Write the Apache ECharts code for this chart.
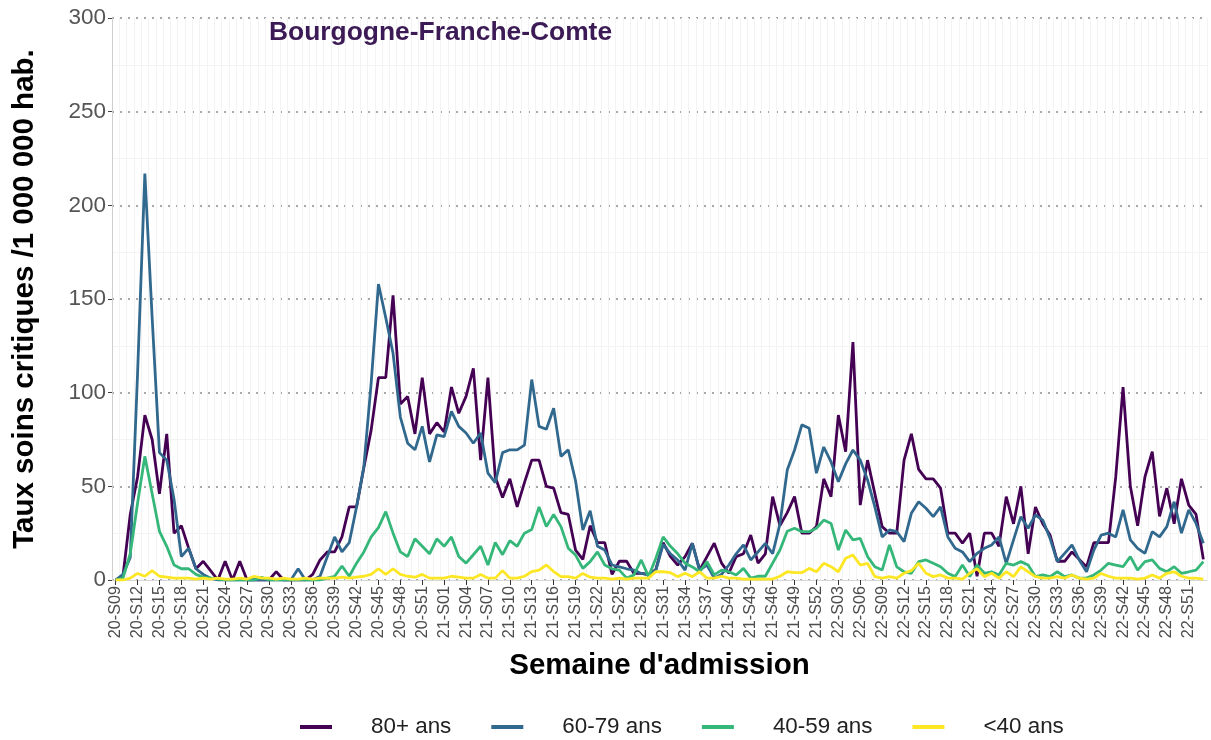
<!DOCTYPE html>
<html>
<head>
<meta charset="utf-8">
<script src="https://cdn.jsdelivr.net/npm/echarts@6/dist/echarts.min.js"></script>
<style>
html,body{margin:0;padding:0;background:#fff;}
#chart{width:1211px;height:740px;}
</style>
</head>
<body>
<div id="chart"></div>
<script>
const weeks = [
"20-S09","20-S10","20-S11","20-S12","20-S13","20-S14","20-S15","20-S16","20-S17","20-S18","20-S19","20-S20","20-S21","20-S22","20-S23","20-S24","20-S25","20-S26","20-S27","20-S28","20-S29","20-S30","20-S31","20-S32","20-S33","20-S34","20-S35","20-S36","20-S37","20-S38","20-S39","20-S40","20-S41","20-S42","20-S43","20-S44","20-S45","20-S46","20-S47","20-S48","20-S49","20-S50","20-S51","20-S52","20-S53",
"21-S01","21-S02","21-S03","21-S04","21-S05","21-S06","21-S07","21-S08","21-S09","21-S10","21-S11","21-S12","21-S13","21-S14","21-S15","21-S16","21-S17","21-S18","21-S19","21-S20","21-S21","21-S22","21-S23","21-S24","21-S25","21-S26","21-S27","21-S28","21-S29","21-S30","21-S31","21-S32","21-S33","21-S34","21-S35","21-S36","21-S37","21-S38","21-S39","21-S40","21-S41","21-S42","21-S43","21-S44","21-S45","21-S46","21-S47","21-S48","21-S49","21-S50","21-S51","21-S52",
"22-S01","22-S02","22-S03","22-S04","22-S05","22-S06","22-S07","22-S08","22-S09","22-S10","22-S11","22-S12","22-S13","22-S14","22-S15","22-S16","22-S17","22-S18","22-S19","22-S20","22-S21","22-S22","22-S23","22-S24","22-S25","22-S26","22-S27","22-S28","22-S29","22-S30","22-S31","22-S32","22-S33","22-S34","22-S35","22-S36","22-S37","22-S38","22-S39","22-S40","22-S41","22-S42","22-S43","22-S44","22-S45","22-S46","22-S47","22-S48","22-S49","22-S50","22-S51","22-S52",
"23-S01"
];

const ans80plus = [
0,2,35,55,88,75,46,78,25,29,17,6,10,5,0,10,0,10,0,0,
0,0,4.5,0,0,0,0,3,10.7,15,15,23,39,39,60,80,108,108,152,94,
98,78,108,78,84,79,103,89,98,113,64,108,55,44,54,39,52,64,64,50,
49,36,35,16,11,29,20,20,3,10,10,3.5,3.5,3,5.5,20,12.5,8,12.5,19.6,
5.3,12.5,19.6,9,3.6,12.5,14,24,9,14,44.5,29,36,44.5,25,25,28.5,54,44.5,88,
68.5,127,40,64,46,28.5,25,25,64,78,59,54,54,49,25,25,19.6,25,2,25,
25,18,44.5,30,50,14,39,30,24,10,10,15,11,7,20,20,20,55,103,50,
29,55,68.5,34,49,30,54,40,35,11
];

const ans60_79 = [
0,3,12,110,217,140,68,64,43,12.5,17,6,3,1,0,0,0,0,0,0,
0,0,0,0,0,6,0,0,2,12.5,23,15,20,39,60.5,105,158,140,121,87,
73,69.5,82,63,77.5,76.5,90,82,78.5,73,78.5,57,52,68,69.5,69.5,72,107,82,80.5,
91.7,66,69.5,53,26.7,37,18,16,8,7,6,5.3,3.5,2.7,5.3,19,14,10.7,5.3,19.6,
5.3,8,1,3,8,14,18.7,10.7,15,19.6,14,30,58.7,69.4,82.8,81,57,71,63,52.5,
62,69.4,64,53.4,39,23,26.7,25.8,20.5,35.6,41.8,38.3,33.8,39,23,16.9,15,9.8,14.2,16.9,
18.7,23,8.9,21.4,33.8,27.6,34.7,32,22.2,9.8,14.2,18.7,10.7,4.4,16,24,25,23,37.4,21.4,
16.9,14.2,25.8,23,28.5,41.8,25,37.4,30.2,19.6
];

const ans40_59 = [
0,1,14,41,66,46,26,18,8,6,6,3,1.5,1,0.5,0,0,0,0,0,
1.5,0,0,0,0,0,0,0,0,1,2,7.5,2,9,15,23,28,36.5,25,15,
12.5,22,18,14,22,18,23,12.5,9,13.5,18,8,20,13.5,21,18,25,27,39,28.5,
35,28.5,17,13.3,6.2,9.8,15,8,6,5.3,1,2.7,10.7,1.8,11.6,23,18,14,9,7,
4.4,9.8,2.7,5.3,4.4,2.7,6.2,1,2,2,9,16,26,27.6,25.8,25.8,27.6,32,30.2,16,
26.7,21.4,22.2,12.5,7.1,5.3,18.7,7,4.4,3.6,9.8,10.7,8.9,7.1,3.6,1.8,8,1.8,8,3.6,
4.4,2.7,8.9,8,9.8,8,1.8,2.7,1.8,4.4,1.8,2.7,1,1,2.7,5.3,8.9,8,7.1,12.5,
5.3,9.8,10.7,6.2,4.4,7.1,3.6,4.4,5.3,9.8
];

const ansMoins40 = [
0,0,1,3.5,2,5,2,1.5,1,1,1,0.5,1,0.5,1,0.5,0.5,1,0.5,2,
1,1,0.5,1,0.5,0.5,1,0.5,1,1,1,1.5,1,1.5,2,3,6,3,6,3,
2,1.5,3,1,1,1,2,1.5,1,1,3,1,1,5,1,1,2,4.5,5.3,8,
4.5,1.8,1.8,1,3.5,1.5,1,1,0.5,1,0.5,1,1,1,4.5,4.4,3.9,1.8,3.6,1.8,
4.4,1,1,2,1,1,0.5,0.5,0.5,0.5,0.5,2,4.4,3.9,3.9,6.2,4.4,8.9,7.1,4.4,
11.6,13.3,8,8.9,1.8,1,1.8,1,3.6,5,8.9,3.6,1.8,2.7,1,1,0.5,3.6,6,1.8,
3.6,1,4.4,1.8,7,4.4,1.8,1,1,1.8,1,2.7,1,0.5,1,3.5,2,1,1,1,
0.5,1,2.7,1,3.6,4.4,2,1,1,0.5
];

const seriesNames = ["80+ ans","60-79 ans","40-59 ans","<40 ans"];
const seriesColors = ["#440154","#31688E","#35B779","#FDE725"];
const seriesData = [ans80plus, ans60_79, ans40_59, ansMoins40];

const chart = echarts.init(document.getElementById('chart'), null, {renderer:'canvas'});
const FONT = 'Liberation Sans, Arial, sans-serif';

chart.setOption({
  animation: false,
  backgroundColor: '#ffffff',
  title: {
    text: 'Bourgogne-Franche-Comte',
    left: 264, top: 15,
    textStyle: {fontFamily: FONT, fontSize: 26.4, fontWeight: 'bold', color: '#3b1a55'}
  },
  legend: {
    left: 295, top: 711,
    icon: 'rect',
    itemWidth: 32, itemHeight: 4,
    itemGap: 40,
    data: seriesNames,
    textStyle: {fontFamily: FONT, fontSize: 22.4, color: '#222', padding: [0,0,0,34]}
  },
  grid: {left: 112, right: 4, top: 18, bottom: 160, containLabel: false},
  xAxis: {
    type: 'category',
    data: weeks,
    boundaryGap: true,
    name: "Semaine d'admission",
    nameLocation: 'middle',
    nameGap: 71,
    nameTextStyle: {fontFamily: FONT, fontSize: 29.5, fontWeight: 'bold', color: '#000'},
    axisLine: {show: true, lineStyle: {color: '#d6d6d6', width: 1}},
    axisTick: {show: true, interval: 2, alignWithLabel: true, length: 5, lineStyle: {color: '#333'}},
    axisLabel: {interval: 2, rotate: 90, fontFamily: FONT, fontSize: 16.2, color: '#4d4d4d', margin: 6},
    splitLine: {show: true, interval: 0, lineStyle: {color: '#f3f3f3', width: 1}}
  },
  yAxis: {
    type: 'value',
    min: 0, max: 300, interval: 50,
    name: 'Taux soins critiques /1 000 000 hab.',
    nameLocation: 'middle',
    nameRotate: 90,
    nameGap: 72,
    nameTextStyle: {fontFamily: FONT, fontSize: 29.5, fontWeight: 'bold', color: '#000'},
    axisLine: {show: true, lineStyle: {color: '#cfcfcf', width: 1}},
    axisTick: {show: true, length: 4, lineStyle: {color: '#444'}},
    axisLabel: {fontFamily: FONT, fontSize: 22.5, color: '#555', margin: 6},
    splitLine: {show: true, lineStyle: {color: '#8c8c8c', width: 1.5, type: [2, 6]}},
    minorTick: {show: false, splitNumber: 2},
    minorSplitLine: {show: true, lineStyle: {color: '#f3f3f3', width: 1}}
  },
  series: seriesNames.map((n, k) => ({
    name: n,
    type: 'line',
    data: seriesData[k],
    symbol: 'none',
    showSymbol: false,
    smooth: false,
    color: seriesColors[k],
    lineStyle: {color: seriesColors[k], width: 2.8},
    emphasis: {disabled: true}
  }))
});
</script>
</body>
</html>
